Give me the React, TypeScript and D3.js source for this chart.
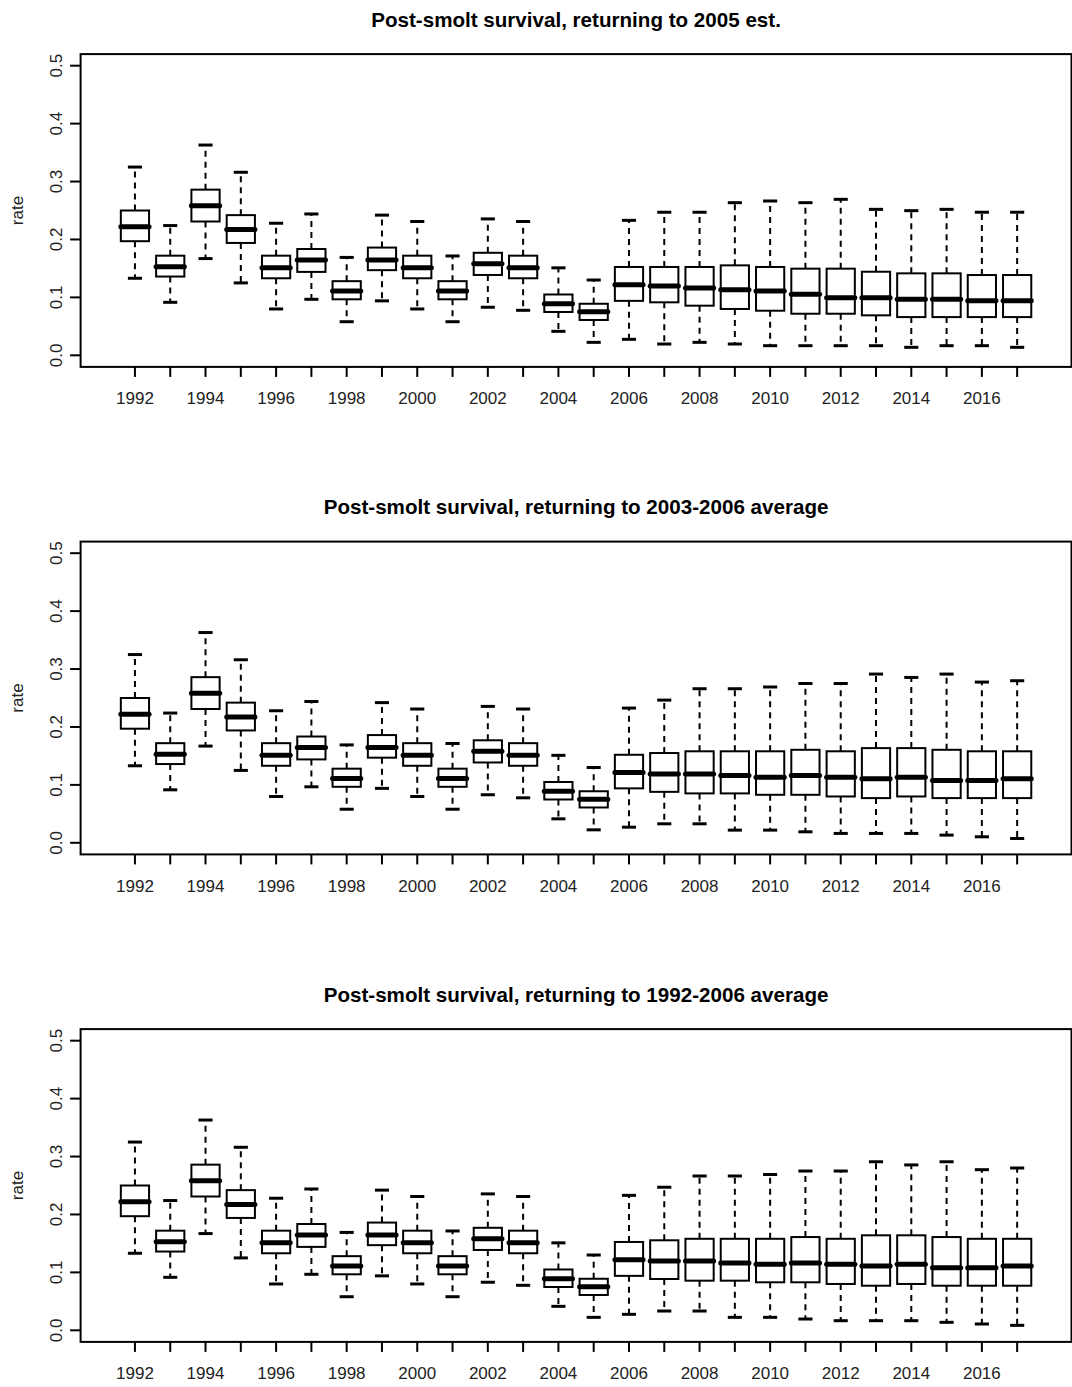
import React from "react";
import * as d3 from "d3";

// box stats per year: [low whisker, q1, median, q3, high whisker]
const years = [1992, 1993, 1994, 1995, 1996, 1997, 1998, 1999, 2000, 2001, 2002, 2003, 2004, 2005,
  2006, 2007, 2008, 2009, 2010, 2011, 2012, 2013, 2014, 2015, 2016, 2017];
const labelledYears = [1992, 1994, 1996, 1998, 2000, 2002, 2004, 2006, 2008, 2010, 2012, 2014, 2016];
const yTicks = [0, 0.1, 0.2, 0.3, 0.4, 0.5];

// 1992-2005, same in all three panels
const historic = [
  [0.133, 0.197, 0.222, 0.25, 0.325],
  [0.0915, 0.136, 0.153, 0.172, 0.224],
  [0.167, 0.231, 0.258, 0.286, 0.363],
  [0.125, 0.194, 0.217, 0.242, 0.316],
  [0.08, 0.133, 0.151, 0.172, 0.228],
  [0.0967, 0.144, 0.1645, 0.1835, 0.244],
  [0.058, 0.0967, 0.111, 0.128, 0.169],
  [0.094, 0.147, 0.1645, 0.186, 0.242],
  [0.08, 0.133, 0.151, 0.172, 0.231],
  [0.058, 0.0967, 0.111, 0.128, 0.1715],
  [0.083, 0.1387, 0.158, 0.177, 0.2355],
  [0.0777, 0.133, 0.151, 0.172, 0.231],
  [0.0414, 0.0748, 0.089, 0.105, 0.151],
  [0.0224, 0.061, 0.0753, 0.089, 0.13],
];

// 2006-2017 projections
const proj2005 = [
  [0.0276, 0.094, 0.122, 0.1525, 0.233],
  [0.0195, 0.0915, 0.1196, 0.1525, 0.247],
  [0.0224, 0.0857, 0.116, 0.1525, 0.247],
  [0.0195, 0.08, 0.1133, 0.1553, 0.2635],
  [0.0166, 0.077, 0.111, 0.1525, 0.2664],
  [0.0166, 0.0718, 0.1053, 0.1496, 0.2635],
  [0.0166, 0.0718, 0.0995, 0.1496, 0.2693],
  [0.0166, 0.069, 0.0995, 0.1443, 0.252],
  [0.0138, 0.066, 0.0967, 0.1415, 0.2497],
  [0.0166, 0.066, 0.0967, 0.1415, 0.252],
  [0.0166, 0.066, 0.0943, 0.1386, 0.247],
  [0.0138, 0.066, 0.0943, 0.1386, 0.247],
];

const proj0306 = [
  [0.027, 0.094, 0.1215, 0.152, 0.2326],
  [0.0328, 0.088, 0.119, 0.155, 0.2464],
  [0.0328, 0.0853, 0.119, 0.158, 0.266],
  [0.0219, 0.0853, 0.1163, 0.158, 0.266],
  [0.0219, 0.0829, 0.1134, 0.158, 0.269],
  [0.019, 0.0829, 0.1163, 0.1606, 0.275],
  [0.0162, 0.08, 0.1134, 0.158, 0.275],
  [0.0162, 0.0772, 0.1105, 0.1635, 0.2913],
  [0.0162, 0.08, 0.1134, 0.1635, 0.2855],
  [0.0133, 0.0772, 0.1077, 0.1606, 0.2913],
  [0.0104, 0.0772, 0.1077, 0.158, 0.2775],
  [0.0075, 0.0772, 0.1105, 0.158, 0.2798],
];

const proj9206 = [
  [0.0276, 0.094, 0.122, 0.1525, 0.233],
  [0.0333, 0.0886, 0.1196, 0.1554, 0.247],
  [0.0333, 0.0857, 0.1196, 0.158, 0.2664],
  [0.0224, 0.0857, 0.116, 0.158, 0.2664],
  [0.0224, 0.0829, 0.114, 0.158, 0.269],
  [0.0195, 0.0829, 0.116, 0.161, 0.275],
  [0.0166, 0.08, 0.114, 0.158, 0.275],
  [0.0166, 0.077, 0.111, 0.164, 0.291],
  [0.0166, 0.08, 0.114, 0.164, 0.2855],
  [0.0138, 0.077, 0.108, 0.161, 0.291],
  [0.0109, 0.077, 0.108, 0.158, 0.2773],
  [0.0086, 0.077, 0.111, 0.158, 0.2802],
];

const panels = [
  { title: "Post-smolt survival, returning to 2005 est.", stats: historic.concat(proj2005) },
  { title: "Post-smolt survival, returning to 2003-2006 average", stats: historic.concat(proj0306) },
  { title: "Post-smolt survival, returning to 1992-2006 average", stats: historic.concat(proj9206) },
];

const W = 1072;
const H = 1387;
const panelStep = 487.5;
const font = "'Liberation Sans', Arial, sans-serif";

// R style extended ranges (4%)
const n = years.length;
const x = d3.scaleLinear([0.5 - 0.04 * n, n + 0.5 + 0.04 * n], [80.6, 1071.5]);
const y = d3.scaleLinear([-0.02, 0.52], [366.9, 54.1]);
const unit = x(2) - x(1);

const Panel = ({ title, stats, top }: any) => {
  const [x0, x1] = x.range();
  const [yb, yt] = y.range();
  return (
    <g transform={`translate(0,${top})`}>
      <text x={(x0 + x1) / 2} y={26.7} textAnchor="middle" fontWeight="bold" fontSize={20.6} fontFamily={font}>
        {title}
      </text>
      <rect x={x0} y={yt} width={x1 - x0} height={yb - yt} fill="none" stroke="#000" strokeWidth={2} />
      {/* y axis */}
      {yTicks.map((t) => (
        <g key={t}>
          <line x1={x0 - 10.5} x2={x0} y1={y(t)} y2={y(t)} stroke="#000" strokeWidth={2} />
          <text
            transform={`translate(61.7,${y(t)}) rotate(-90)`}
            textAnchor="middle"
            fontSize={17}
            fontFamily={font}
            fill="#222"
          >
            {t.toFixed(1)}
          </text>
        </g>
      ))}
      <text transform={`translate(23.3,${(yb + yt) / 2}) rotate(-90)`} textAnchor="middle" fontSize={17} fontFamily={font} fill="#222">
        rate
      </text>
      {/* x axis */}
      {years.map((yr, i) => (
        <line key={yr} x1={x(i + 1)} x2={x(i + 1)} y1={yb} y2={yb + 10} stroke="#000" strokeWidth={2} />
      ))}
      {labelledYears.map((yr) => (
        <text key={yr} x={x(years.indexOf(yr) + 1)} y={404} textAnchor="middle" fontSize={17} fontFamily={font} fill="#222">
          {yr}
        </text>
      ))}
      {/* boxes */}
      {stats.map((s: number[], i: number) => {
        const cx = x(i + 1);
        const bw = unit * 0.8;
        const sw = bw * 0.5;
        const [lo, q1, med, q3, hi] = s;
        return (
          <g key={i}>
            <line x1={cx} x2={cx} y1={y(q3)} y2={y(hi)} stroke="#000" strokeWidth={2} strokeDasharray="6,5" />
            <line x1={cx} x2={cx} y1={y(q1)} y2={y(lo)} stroke="#000" strokeWidth={2} strokeDasharray="6,5" />
            <line x1={cx - sw / 2} x2={cx + sw / 2} y1={y(hi)} y2={y(hi)} stroke="#000" strokeWidth={3} />
            <line x1={cx - sw / 2} x2={cx + sw / 2} y1={y(lo)} y2={y(lo)} stroke="#000" strokeWidth={3} />
            <rect x={cx - bw / 2} y={y(q3)} width={bw} height={y(q1) - y(q3)} fill="#fff" stroke="#000" strokeWidth={2} />
            <line x1={cx - bw / 2} x2={cx + bw / 2} y1={y(med)} y2={y(med)} stroke="#000" strokeWidth={5} strokeLinecap="round" />
          </g>
        );
      })}
    </g>
  );
};

export default function App() {
  return (
    <svg width={W} height={H} style={{ position: "absolute", left: 0, top: 0, background: "#fff" }}>
      <rect width={W} height={H} fill="#fff" />
      {panels.map((p, i) => (
        <Panel key={i} title={p.title} stats={p.stats} top={i * panelStep} />
      ))}
    </svg>
  );
}
